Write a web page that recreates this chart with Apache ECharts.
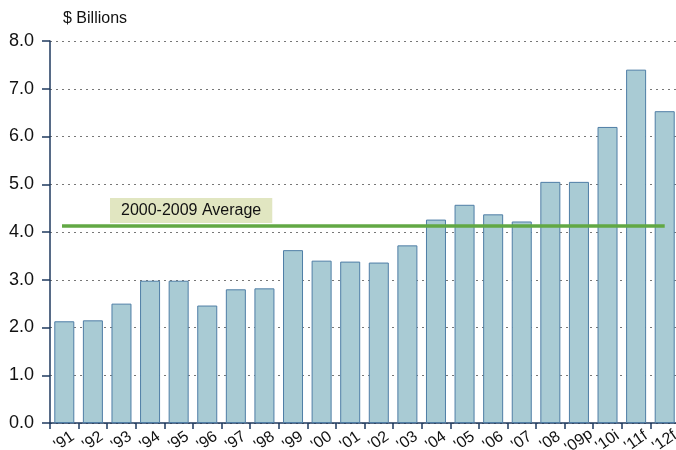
<!DOCTYPE html>
<html>
<head>
<meta charset="utf-8">
<script src="https://cdn.jsdelivr.net/npm/echarts@6/dist/echarts.min.js"></script>
<style>
  html, body { margin: 0; padding: 0; background: #fff; }
  #chart { width: 676px; height: 450px; }
</style>
</head>
<body>
<div id="chart"></div>
<script>
const years = ["'91", "'92", "'93", "'94", "'95", "'96", "'97", "'98", "'99", "'00", "'01",
  "'02", "'03", "'04", "'05", "'06", "'07", "'08", "'09p", "'10i", "'11f", "'12f"]
const billions = [2.13, 2.15, 2.5, 2.98, 2.98, 2.46, 2.8, 2.82, 3.62, 3.4, 3.38,
  3.36, 3.72, 4.26, 4.57, 4.37, 4.22, 5.05, 5.05, 6.2, 7.4, 6.53]
const average = 4.14
const averageLabel = '2000-2009 Average'

const font = 'Liberation Sans, Arial, sans-serif'
const chart = echarts.init(document.getElementById('chart'))

chart.setOption({
  animation: false,
  grid: {
    top: 41,
    left: 50,
    right: -3,
    bottom: 27,
    containLabel: false,
    outerBoundsMode: 'none'
  },
  xAxis: {
    type: 'category',
    data: years,
    axisLine: { lineStyle: { color: '#1f3a5f', width: 1.5 } },
    axisTick: { show: true, length: 6, lineStyle: { color: '#1f3a5f', width: 1.5 } },
    axisLabel: {
      interval: 0,
      rotate: 35,
      align: 'center',
      verticalAlign: 'middle',
      margin: 18,
      color: '#111',
      fontFamily: font,
      fontSize: 16
    }
  },
  yAxis: {
    type: 'value',
    min: 0,
    max: 8,
    interval: 1,
    axisLine: { show: true, lineStyle: { color: '#1f3a5f', width: 1.5 } },
    axisTick: { show: true, length: 8, lineStyle: { color: '#1f3a5f', width: 1.5 } },
    axisLabel: {
      formatter: v => v.toFixed(1),
      color: '#111',
      fontFamily: font,
      fontSize: 18,
      margin: 16
    },
    splitLine: {
      lineStyle: { type: [2, 4], color: '#777', width: 1 }
    }
  },
  graphic: [
    {
      type: 'text',
      left: 63,
      top: 11,
      style: { text: '$ Billions', fontFamily: font, fontSize: 16, fill: '#111' }
    },
    {
      type: 'text',
      left: 110,
      top: 198,
      z: 10,
      style: {
        text: averageLabel,
        fontFamily: font,
        fontSize: 16,
        fill: '#111',
        backgroundColor: '#e1e6c1',
        padding: [5, 11, 4, 11]
      }
    }
  ],
  series: [
    {
      type: 'bar',
      data: billions,
      barWidth: '70%',
      itemStyle: {
        color: '#a9cbd4',
        borderColor: '#4f7ea6',
        borderWidth: 1
      },
      markLine: {
        silent: true,
        symbol: 'none',
        label: { show: false },
        lineStyle: { color: '#62a844', width: 3.5, type: 'solid' },
        data: [[
          { coord: [years[0], average], x: 62 },
          { coord: [years[years.length - 1], average] }
        ]]
      }
    }
  ]
})
</script>
</body>
</html>
